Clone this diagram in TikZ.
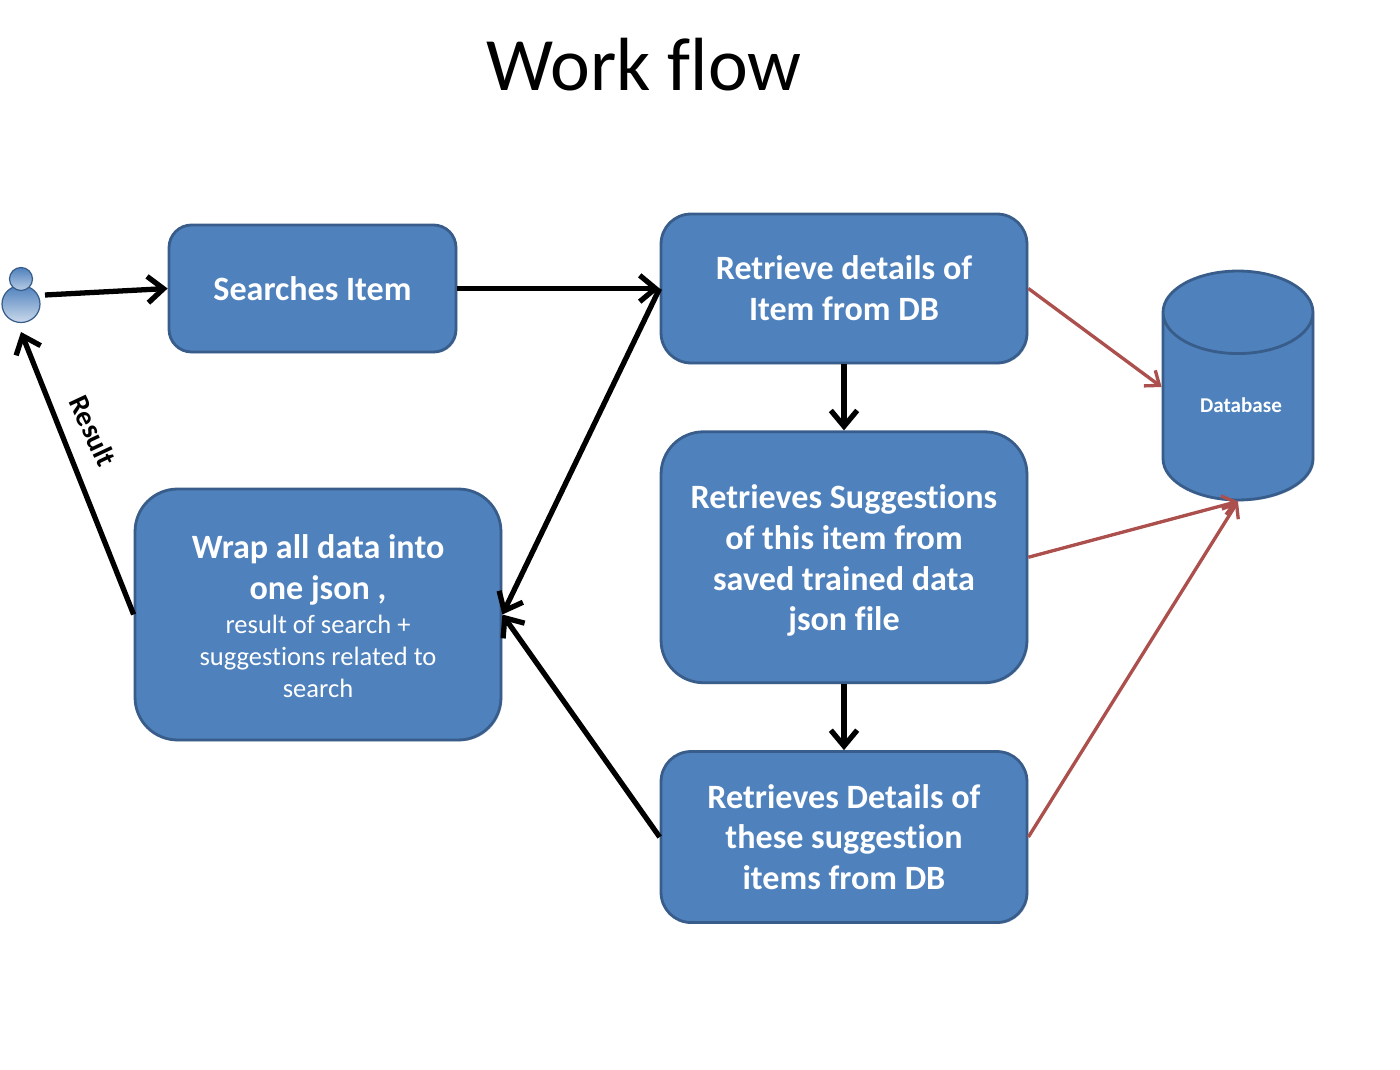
\documentclass[tikz,border=0pt]{standalone}
\usepackage{fontspec}
\setmainfont[Ligatures=NoCommon]{Carlito}
\usetikzlibrary{shapes.geometric,arrows.meta,positioning,shadows}
\definecolor{boxblue}{RGB}{79,129,189}
\definecolor{boxedge}{RGB}{56,93,138}
\definecolor{linkred}{RGB}{172,80,78}
\newcommand{\bigsize}{\fontsize{19.4}{23.2}\selectfont\bfseries}
\newcommand{\smallsize}{\fontsize{15.1}{18.1}\selectfont\mdseries}

\begin{document}
\begin{tikzpicture}[x=0.02cm, y=-0.02cm, softshadow/.style={drop shadow={shadow xshift=0.8pt, shadow yshift=-0.8pt, opacity=0.25, fill=boxedge}}, box/.style={draw=boxedge, line width=1.6pt, fill=boxblue, text=white, align=center, minimum width=7.32cm, rounded corners=0.6cm, font=\bigsize, softshadow}, arr/.style={-{Straight Barb[length=9pt,width=15pt]}, line width=3pt, black}, redarr/.style={-{Straight Barb[length=7pt,width=11pt]}, line width=1.9pt, linkred}]
\useasboundingbox (0,0) rectangle (1400,1070);
\node[font=\fontsize{42.9}{42}\selectfont] (title) at (644,65) {Work flow};
\node[box, minimum width=5.74cm, minimum height=2.54cm, rounded corners=0.45cm] (search) at (312.5,288.5) {Searches Item};
\node[box, minimum height=2.98cm] (retrieve) at (844,288.5) {Retrieve details of\\Item from DB};
\node[box, minimum height=5.02cm, rounded corners=0.85cm, below=1.32cm of retrieve] (suggest) {\rule{0pt}{17.5pt}Retrieves Suggestions\\of this item from\\saved trained data\\json file};
\node[box, minimum height=3.42cm, below=1.32cm of suggest] (details) {Retrieves Details of\\these suggestion\\items from DB};
\node[box, minimum height=5.02cm, rounded corners=0.85cm] (wrap) at (318,614.5) {\rule{0pt}{15.5pt}Wrap all data into\\one json ,\\[-3.8pt]{\smallsize result of search +}\\[-5pt]{\smallsize suggestions related to}\\[-5pt]{\smallsize search}};
\node[cylinder, shape border rotate=90, aspect=0.83, anchor=shape center, draw=boxedge, line width=1.6pt, fill=boxblue, cylinder uses custom fill, cylinder body fill=boxblue, cylinder end fill=boxblue, minimum width=3cm, minimum height=4.58cm, text=white, font=\fontsize{12}{14}\selectfont\bfseries, softshadow] (db) at (1238,385.5) {\raisebox{11pt}{\hspace{3.4pt}Database}};

% user icon
\node[ellipse, draw=boxedge, line width=0.7pt, top color=boxblue, bottom color=boxblue!30!white, minimum width=0.76cm, minimum height=0.74cm, inner sep=0pt] (body) at (21,304) {};
\node[circle, draw=boxedge, line width=0.7pt, top color=boxblue, bottom color=boxblue!40!white, minimum size=0.46cm, inner sep=0pt] (head) at (21,279) {};
\coordinate (userout) at (45,295);
\coordinate (userin) at (21,332);

\draw[arr] (userout) -- (search.west);
\draw[arr] (search.east) -- (retrieve.west);
\draw[arr] (retrieve.south) -- (suggest.north);
\draw[arr] (suggest.south) -- (details.north);
\draw[arr] (retrieve.west) -- (wrap.east);
\draw[arr] (details.west) -- (wrap.east);
\draw[arr] (wrap.west) -- (userin);
\node[rotate=-65, font=\fontsize{16.4}{18}\selectfont\bfseries] (result) at (93,431) {Result};
\draw[redarr] (retrieve.east) -- (db.160);
\draw[redarr] (suggest.east) -- (db.south);
\draw[redarr] (details.east) -- (db.south);
\end{tikzpicture}
\end{document}
